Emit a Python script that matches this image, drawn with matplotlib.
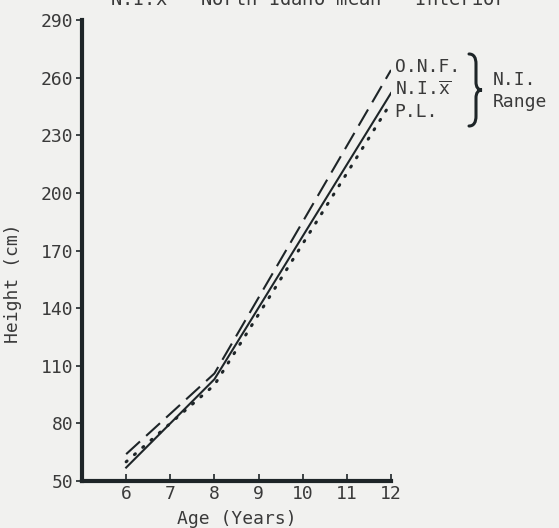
import matplotlib
matplotlib.use("Agg")
import matplotlib.pyplot as plt
from matplotlib.path import Path
from matplotlib.patches import PathPatch

ages = [6, 8, 12]
onf = [64, 106, 264]      # O.N.F. (dashed)
ni_mean = [57, 103, 252]  # N.I. mean (solid)
pl = [60, 100, 247]       # P.L. (dotted)

yticks = [50, 80, 110, 140, 170, 200, 230, 260, 290]
xticks = [6, 7, 8, 9, 10, 11, 12]

bg = "#f1f1ef"
ink = "#1e2528"
txt = "#3a3a3a"
plt.rcParams['font.family'] = ['DejaVu Sans Mono']

W, H = 559, 528
fig = plt.figure(figsize=(5.59, 5.28), dpi=100, facecolor=bg)
ax = fig.add_axes([0.1467, 0.089, 0.5528, 0.873], facecolor=bg)

ax.plot(ages, onf, color=ink, lw=1.5, linestyle=(0, (9, 4)))
ax.plot(ages, ni_mean, color=ink, lw=1.5, linestyle='-')
ax.plot(ages, pl, color=ink, lw=2.2, linestyle=(0, (0.4, 3.2)), dash_capstyle='round')

ax.set_xlim(5, 12)
ax.set_ylim(50, 290)
ax.set_xticks(xticks)
ax.set_yticks(yticks)
for s in ['top', 'right']:
    ax.spines[s].set_visible(False)
for s in ['left', 'bottom']:
    ax.spines[s].set_linewidth(3)
    ax.spines[s].set_color(ink)
ax.tick_params(axis='x', direction='in', length=5, width=1.2, colors=ink, labelsize=13, pad=3, labelcolor=txt)
ax.tick_params(axis='y', direction='out', length=4, width=1.2, colors=ink, labelsize=13, pad=2, labelcolor=txt)
ax.set_xlabel("Age (Years)", fontsize=13, color=txt)
ax.xaxis.set_label_coords(0.5, -0.062)
ax.set_ylabel("Height (cm)", fontsize=13, color=txt)
ax.yaxis.set_label_coords(-0.195, 0.43)

tx = 0.706
fs = 13
fig.text(tx, 1 - 67/H, "O.N.F.", fontsize=fs, color=txt, va='center')
fig.text(tx, 1 - 90/H, r"N.I.$\overline{\mathtt{x}}$", fontsize=fs, color=txt, va='center')
fig.text(tx, 1 - 112/H, "P.L.", fontsize=fs, color=txt, va='center')
fig.text(0.882, 1 - 80/H, "N.I.", fontsize=fs, color=txt, va='center')
fig.text(0.882, 1 - 102/H, "Range", fontsize=fs, color=txt, va='center')

# curly brace
pts = [(469, 54), (474, 54), (476, 58), (476, 64), (476, 82),
       (476, 87), (478, 90), (482, 90), (478, 90), (476, 93), (476, 98),
       (476, 116), (476, 122), (474, 126), (469, 126)]
codes = [Path.MOVETO, Path.CURVE4, Path.CURVE4, Path.CURVE4, Path.LINETO,
         Path.CURVE4, Path.CURVE4, Path.CURVE4, Path.CURVE4, Path.CURVE4, Path.CURVE4,
         Path.LINETO, Path.CURVE4, Path.CURVE4, Path.CURVE4]
brace = Path([(x / W, 1 - y / H) for x, y in pts], codes)
fig.patches.append(PathPatch(brace, transform=fig.transFigure, fill=False,
                             edgecolor=ink, lw=2.2, capstyle='round'))

fig.text(110/W, 1.0, r"N.I.$\overline{\mathtt{x}}$   North Idaho mean   Interior", fontsize=13.5,
         color=txt, va='center', ha='left')

fig.savefig("out.png", dpi=100, facecolor=bg)
